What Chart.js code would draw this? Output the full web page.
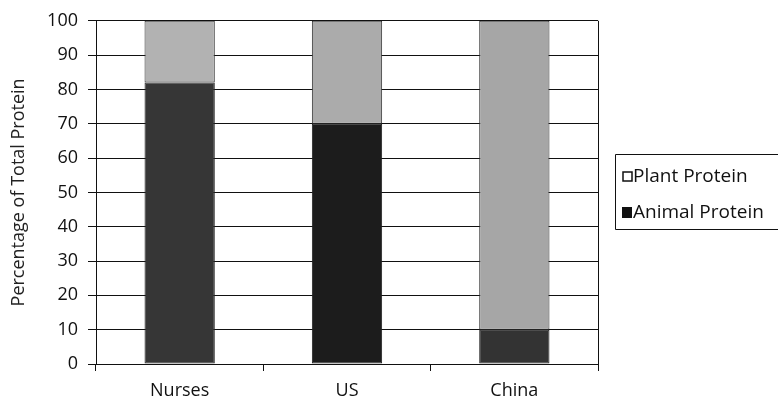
<!DOCTYPE html>
<html>
<head>
<meta charset="utf-8">
<script src="https://cdn.jsdelivr.net/npm/chart.js@4/dist/chart.umd.min.js"></script>
<style>
  html, body { margin: 0; padding: 0; background: #fff; }
  #wrap { width: 778px; height: 405px; }
</style>
</head>
<body>
<div id="wrap"><canvas id="myChart" width="778" height="405"></canvas></div>
<script>
// data
const groups = ['Nurses', 'US', 'China'];
const animalProtein = [82, 70, 10];
const plantProtein = [18, 30, 90];
const yTicks = [0, 10, 20, 30, 40, 50, 60, 70, 80, 90, 100];
const seriesNames = ['Animal Protein', 'Plant Protein'];

const fontFamily = '"Open Sans", "Noto Sans", sans-serif';

// legend box and right border drawn by hand
const extrasPlugin = {
    id: 'extras',
    afterDraw(chart) {
        const ctx = chart.ctx;
        const area = chart.chartArea;
        ctx.save();
        ctx.strokeStyle = '#111';
        ctx.lineWidth = 1;
        // right border of plot
        ctx.beginPath();
        ctx.moveTo(Math.round(area.right) + 0.5, area.top);
        ctx.lineTo(Math.round(area.right) + 0.5, area.bottom + 7);
        ctx.stroke();

        // legend
        const bx = 615.5, by = 154.5, bw = 170, bh = 75;
        ctx.beginPath();
        ctx.rect(bx, by, bw, bh);
        ctx.stroke();
        ctx.font = '19px ' + fontFamily;
        ctx.textBaseline = 'middle';
        ctx.fillStyle = '#111';
        const items = [
            { label: chart.data.datasets[1].label, filled: false, y: 177 },
            { label: chart.data.datasets[0].label, filled: true, y: 213 }
        ];
        items.forEach(it => {
            if (it.filled) {
                ctx.fillStyle = '#111';
                ctx.fillRect(622, it.y - 6, 10, 11);
            } else {
                ctx.lineWidth = 1.5;
                ctx.strokeRect(623, it.y - 5, 9, 9);
                ctx.lineWidth = 1;
            }
            ctx.fillStyle = '#111';
            ctx.fillText(it.label, 633, it.y);
        });
        ctx.restore();
    }
};

const ctx = document.getElementById('myChart').getContext('2d');
new Chart(ctx, {
    type: 'bar',
    data: {
        labels: groups,
        datasets: [
            {
                label: seriesNames[0],
                data: animalProtein,
                backgroundColor: ['#363636', '#1c1c1c', '#333333'],
                borderColor: '#222',
                borderWidth: 1,
                borderSkipped: false,
                barPercentage: 0.42,
                categoryPercentage: 1
            },
            {
                label: seriesNames[1],
                data: plantProtein,
                backgroundColor: ['#b2b2b2', '#ababab', '#a6a6a6'],
                borderColor: '#333',
                borderWidth: 1,
                borderSkipped: false,
                barPercentage: 0.42,
                categoryPercentage: 1
            }
        ]
    },
    options: {
        responsive: false,
        animation: false,
        layout: { padding: { top: 20, right: 180, left: 0, bottom: 0 } },
        plugins: {
            legend: { display: false },
            tooltip: { enabled: false }
        },
        scales: {
            x: {
                stacked: true,
                offset: true,
                grid: {
                    offset: true,
                    drawOnChartArea: false,
                    drawTicks: true,
                    tickLength: 7,
                    color: '#111'
                },
                border: { color: '#111', width: 1 },
                ticks: {
                    color: '#111',
                    font: { family: fontFamily, size: 18 },
                    padding: 9
                },
                afterFit(scale) { scale.height = 41; }
            },
            y: {
                stacked: true,
                min: 0,
                max: 100,
                afterBuildTicks(scale) {
                    scale.ticks = yTicks.map(v => ({ value: v }));
                },
                grid: {
                    color: '#111',
                    lineWidth: 1,
                    tickLength: 8
                },
                border: { color: '#111', width: 1 },
                ticks: {
                    color: '#111',
                    font: { family: fontFamily, size: 18 },
                    padding: 10
                },
                title: {
                    display: true,
                    text: 'Percentage of Total Protein',
                    color: '#222',
                    font: { family: fontFamily, size: 18 },
                    padding: { top: 8, bottom: 4 }
                },
                afterFit(scale) { scale.width = 96; }
            }
        }
    },
    plugins: [extrasPlugin]
});
</script>
</body>
</html>
